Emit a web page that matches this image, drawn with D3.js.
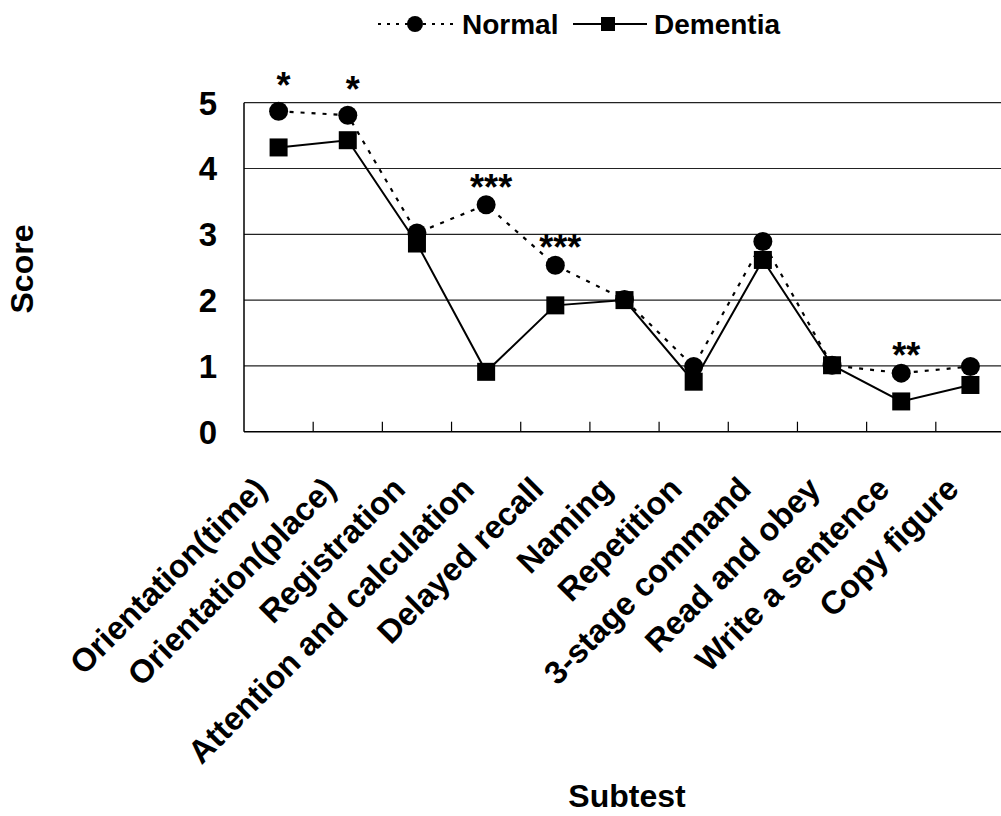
<html>
<head>
<script src="https://cdn.jsdelivr.net/npm/d3@7"></script>
<style>
  body { margin: 0; background: #fff; }
  text { font-family: "Liberation Sans", Arial, sans-serif; font-weight: bold; fill: #000; }
</style>
</head>
<body>
<script>
// subtests along the x axis
var categories = ["Orientation(time)", "Orientation(place)", "Registration",
  "Attention and calculation", "Delayed recall", "Naming", "Repetition",
  "3-stage command", "Read and obey", "Write a sentence", "Copy figure"];
// mean scores
var normal   = [4.87, 4.81, 3.02, 3.45, 2.53, 2.01, 0.99, 2.89, 1.01, 0.89, 0.99];
var dementia = [4.32, 4.43, 2.86, 0.91, 1.92, 2.00, 0.76, 2.61, 1.01, 0.46, 0.71];
// significance marks above the Normal points
var stars = ["*", "*", "", "***", "***", "", "", "", "", "**", ""];
var yTicks = [0, 1, 2, 3, 4, 5];

var w = 1001, h = 816;

var svg = d3.select("body").append("svg")
  .attr("width", w)
  .attr("height", h);

/* scales */
var x = d3.scaleBand().domain(categories).range([244, 1005]).paddingInner(0);
var y = d3.scaleLinear().domain([0, 5]).range([431.7, 102.7]);
var cx = function(c) { return x(c) + x.bandwidth() / 2; };

/* gridlines */
svg.selectAll(".grid")
  .data(yTicks.filter(function(d) { return d > 0; }))
  .enter().append("line")
    .attr("x1", 244).attr("x2", w)
    .attr("y1", function(d) { return y(d); })
    .attr("y2", function(d) { return y(d); })
    .attr("stroke", "#222").attr("stroke-width", 1.2);

/* axes frame */
svg.append("line").attr("x1", 244).attr("x2", 244).attr("y1", y(5)).attr("y2", y(0))
  .attr("stroke", "#000").attr("stroke-width", 1.5);
svg.append("line").attr("x1", 244).attr("x2", w).attr("y1", y(0)).attr("y2", y(0))
  .attr("stroke", "#000").attr("stroke-width", 1.5);

/* x ticks between the categories */
svg.selectAll(".xtick")
  .data(categories.slice(1))
  .enter().append("line")
    .attr("x1", function(d) { return x(d); })
    .attr("x2", function(d) { return x(d); })
    .attr("y1", y(0)).attr("y2", y(0) - 10)
    .attr("stroke", "#000").attr("stroke-width", 1.2);

/* y tick labels */
svg.selectAll(".ylab")
  .data(yTicks)
  .enter().append("text")
    .attr("x", 217)
    .attr("y", function(d) { return y(d); })
    .attr("dy", "0.36em")
    .attr("text-anchor", "end")
    .style("font-size", "33px")
    .text(function(d) { return d; });

/* x labels, rotated */
svg.selectAll(".xlab")
  .data(categories)
  .enter().append("text")
    .attr("text-anchor", "end")
    .attr("transform", function(d) { return "translate(" + (cx(d) - 10) + ",491) rotate(-45)"; })
    .style("font-size", "32.5px")
    .text(function(d) { return d; });

/* axis titles */
svg.append("text")
  .attr("transform", "translate(33,269) rotate(-90)")
  .attr("text-anchor", "middle")
  .style("font-size", "32px")
  .text("Score");
svg.append("text")
  .attr("x", 627).attr("y", 807)
  .attr("text-anchor", "middle")
  .style("font-size", "32px")
  .text("Subtest");

/* lines */
var line = function(vals) {
  return d3.line()
    .x(function(d, i) { return cx(categories[i]); })
    .y(function(d) { return y(d); })(vals);
};

svg.append("path")
  .attr("d", line(normal))
  .attr("fill", "none").attr("stroke", "#000")
  .attr("stroke-width", 2.2).attr("stroke-dasharray", "4,7");

svg.append("path")
  .attr("d", line(dementia))
  .attr("fill", "none").attr("stroke", "#000")
  .attr("stroke-width", 2);

/* markers */
svg.selectAll(".sq")
  .data(dementia)
  .enter().append("rect")
    .attr("x", function(d, i) { return cx(categories[i]) - 9; })
    .attr("y", function(d) { return y(d) - 9; })
    .attr("width", 18).attr("height", 18)
    .attr("fill", "#000");

svg.selectAll(".dot")
  .data(normal)
  .enter().append("circle")
    .attr("cx", function(d, i) { return cx(categories[i]); })
    .attr("cy", function(d) { return y(d); })
    .attr("r", 9.5)
    .attr("fill", "#000");

/* significance stars */
svg.selectAll(".star")
  .data(stars)
  .enter().append("text")
    .attr("x", function(d, i) { return cx(categories[i]) + 5; })
    .attr("y", function(d, i) { return y(normal[i]) - 5 - (i < 2 ? 8 : 0); })
    .attr("text-anchor", "middle")
    .style("font-size", "36px")
    .text(function(d) { return d; });

/* legend */
var lg = svg.append("g");
lg.append("line").attr("x1", 378).attr("x2", 453).attr("y1", 24).attr("y2", 24)
  .attr("stroke", "#000").attr("stroke-width", 2).attr("stroke-dasharray", "3,6");
lg.append("circle").attr("cx", 415).attr("cy", 24).attr("r", 8).attr("fill", "#000");
lg.append("text").attr("x", 462).attr("y", 34).style("font-size", "28px").text("Normal");
lg.append("line").attr("x1", 573).attr("x2", 647).attr("y1", 24).attr("y2", 24)
  .attr("stroke", "#000").attr("stroke-width", 2);
lg.append("rect").attr("x", 601).attr("y", 17).attr("width", 14).attr("height", 14).attr("fill", "#000");
lg.append("text").attr("x", 654).attr("y", 34).style("font-size", "28px").text("Dementia");
</script>
</body>
</html>
